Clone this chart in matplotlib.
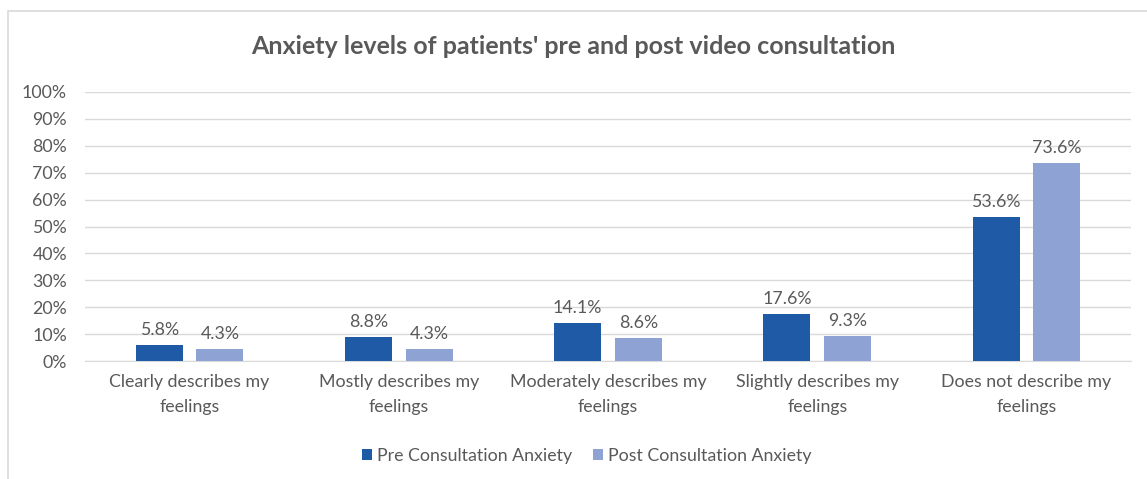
import numpy as np
import matplotlib.pyplot as plt
from matplotlib.patches import Rectangle
from matplotlib.ticker import PercentFormatter

plt.rcParams['font.family'] = ['Lato', 'DejaVu Sans']

# --- data ---
categories = ["Clearly describes my\nfeelings", "Mostly describes my\nfeelings",
              "Moderately describes my\nfeelings", "Slightly describes my\nfeelings",
              "Does not describe my\nfeelings"]
pre_values = [5.8, 8.8, 14.1, 17.6, 53.6]
post_values = [4.3, 4.3, 8.6, 9.3, 73.6]
series_names = ["Pre Consultation Anxiety", "Post Consultation Anxiety"]

text_col = '#595959'
grid_col = '#d9d9d9'
pre_col = '#1f5aa6'
post_col = '#8fa2d4'
fs = 12.8

fig = plt.figure(figsize=(11.47, 4.79), dpi=100)
ax = fig.add_axes([85/1147, 1 - 361/479, (1131-85)/1147, (361-92)/479])

# chart border (left + top visible)
fig.patches.append(Rectangle((8/1147, -0.1), 1.2, 1.1 - 11/479, transform=fig.transFigure,
                             fill=False, edgecolor=grid_col, lw=1.2, zorder=0))

x = np.arange(len(categories))
w = 0.225
off = 0.145
b1 = ax.bar(x - off, pre_values, w, color=pre_col, label=series_names[0], zorder=3)
b2 = ax.bar(x + off, post_values, w, color=post_col, label=series_names[1], zorder=3)

for bars, vals in ((b1, pre_values), (b2, post_values)):
    for b, v in zip(bars, vals):
        ax.annotate(f"{v:.1f}%", (b.get_x() + b.get_width()/2, v), xytext=(0, 5),
                    textcoords='offset points', ha='center', va='bottom',
                    fontsize=fs, color=text_col)

ax.set_xlim(-0.5, len(categories) - 0.5)
ax.set_ylim(0, 100)
ax.set_yticks(np.arange(0, 101, 10))
ax.yaxis.set_major_formatter(PercentFormatter(decimals=0))
ax.grid(axis='y', color=grid_col, lw=1, zorder=0)
ax.set_axisbelow(True)
for s in ['top', 'right', 'left']:
    ax.spines[s].set_visible(False)
ax.spines['bottom'].set_color(grid_col)
ax.tick_params(axis='both', length=0, labelsize=fs, labelcolor=text_col)
ax.tick_params(axis='y', pad=13)
ax.tick_params(axis='x', pad=9)
ax.set_xticks(x)
ax.set_xticklabels(categories, linespacing=1.75)

fig.text(0.5, 1 - 47/479, "Anxiety levels of patients' pre and post video consultation",
         ha='center', va='center', fontsize=18, fontweight='bold', color=text_col)

fig.legend(loc='center', bbox_to_anchor=(587/1147, 1 - 456/479), ncol=2, frameon=False,
           fontsize=fs, labelcolor=text_col, handlelength=0.55, handleheight=0.55,
           handletextpad=0.3, columnspacing=1.15)

fig.savefig('out.png', dpi=100)
